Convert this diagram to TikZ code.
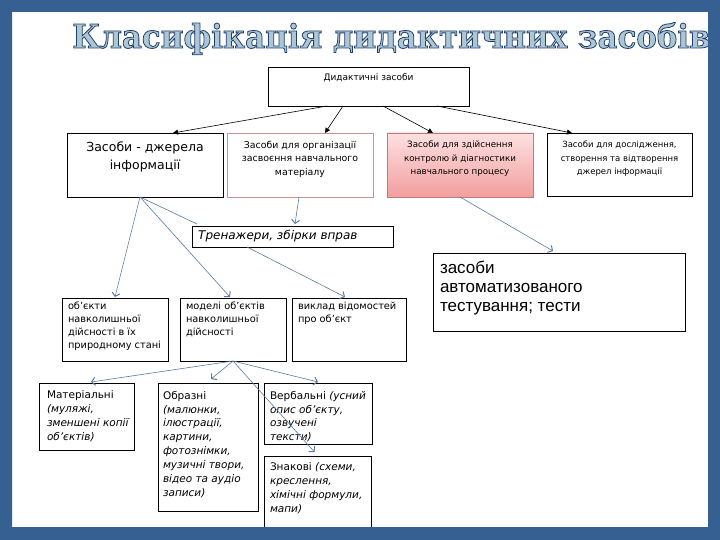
\documentclass[tikz,border=0pt]{standalone}
\usepackage{fontspec}
\setmainfont{DejaVu Sans}
\newfontfamily\lsans{Liberation Sans}
\newfontfamily\tserif{DejaVu Serif}
\usetikzlibrary{arrows.meta,calc}
\definecolor{frameblue}{RGB}{54,96,146}
\definecolor{linkblue}{RGB}{90,124,160}
\definecolor{ttlfill}{RGB}{172,198,212}
\definecolor{orgedge}{RGB}{205,145,145}
\definecolor{ctrledge}{RGB}{185,125,125}
\definecolor{ctrltop}{RGB}{253,224,224}
\definecolor{ctrlbot}{RGB}{243,158,158}
\newcommand{\ttltext}{\resizebox{638pt}{25.5pt}{\tserif\bfseries\special{pdf:literal direct 2 Tr 0.25 w 0.13 0.25 0.43 RG}Класифікація дидактичних засобів\special{pdf:literal direct 0 Tr}}}
\begin{document}
\begin{tikzpicture}[x=1pt,y=-1pt,
  bx/.style={draw=black, line width=0.8pt, inner sep=0pt, outer sep=0pt, fill=white, anchor=north west},
  txt/.style={inner sep=0pt, outer sep=0pt, align=left, anchor=north west, text=black},
  ctxt/.style={inner sep=0pt, outer sep=0pt, align=center, anchor=north, text=black},
  blk/.style={draw=black, line width=0.6pt, -{Triangle[length=5pt,width=5pt]}},
  lnk/.style={draw=linkblue, line width=0.6pt, -{Straight Barb[length=3.5pt,width=8pt,line width=1pt]}},
  lnkplain/.style={draw=linkblue, line width=0.6pt},
  small/.style={font=\fontsize{8.5}{13.6}\selectfont},
  bot/.style={font=\fontsize{9.8}{13}\selectfont},
  bot2/.style={font=\fontsize{10.5}{13.9}\selectfont},
]
\useasboundingbox (0,0) rectangle (720,540);
\fill[white] (0,0) rectangle (720,540);

% title
\node[inner sep=0pt, anchor=base west, text=ttlfill] (title) at (72,48) {\ttltext};

% boxes
\node[bx, minimum width=201pt, minimum height=39pt] (top) at (268,67) {};
\node[ctxt, font=\fontsize{9}{11}\selectfont] (topT) at ([yshift=-7pt]top.north) {Дидактичні засоби};

\node[bx, minimum width=156pt, minimum height=64pt] (src) at (67,133) {};
\node[ctxt, font=\fontsize{12.5}{17.5}\selectfont] (srcT) at ([yshift=-9pt]src.north) {Засоби - джерела\\інформації};

\node[bx, draw=orgedge, minimum width=146pt, minimum height=64pt] (org) at (227,133) {};
\node[ctxt, font=\fontsize{9.4}{13.6}\selectfont] (orgT) at ([yshift=-8pt]org.north) {Засоби для організації\\засвоєння навчального\\матеріалу};

\node[bx, draw=ctrledge, top color=ctrltop, bottom color=ctrlbot, minimum width=146pt, minimum height=64pt] (ctrl) at (387,133) {};
\node[ctxt, font=\fontsize{8.7}{13.6}\selectfont] (ctrlT) at ([yshift=-8pt]ctrl.north) {Засоби для здійснення\\контролю й діагностики\\навчального процесу};

\node[bx, minimum width=145pt, minimum height=63pt] (res) at (547,133) {};
\node[ctxt, small] (resT) at ([yshift=-8pt]res.north) {Засоби для дослідження,\\створення та відтворення\\джерел інформації};

\node[bx, minimum width=201pt, minimum height=21pt] (trn) at (192,226) {};
\node[inner sep=0pt, anchor=west, font=\fontsize{12}{14}\selectfont\itshape] (trnT) at ([xshift=6pt]trn.west) {Тренажери, збірки вправ};

\node[bx, minimum width=252pt, minimum height=78pt] (auto) at (433,253) {};
\node[txt, font=\lsans\fontsize{17}{19}\selectfont] (autoT) at ([shift={(7pt,-8pt)}]auto.north west) {засоби\\автоматизованого\\тестування; тести};

\node[bx, minimum width=106pt, minimum height=63pt] (obj) at (62,298) {};
\node[txt, bot] (objT) at ([shift={(6pt,-4pt)}]obj.north west) {об'єкти\\навколишньої\\дійсності в їх\\природному стані};

\node[bx, minimum width=106pt, minimum height=63pt] (mod) at (180,298) {};
\node[txt, bot] (modT) at ([shift={(6pt,-4pt)}]mod.north west) {моделі об'єктів\\навколишньої\\дійсності};

\node[bx, minimum width=114pt, minimum height=63pt] (vyk) at (292,298) {};
\node[txt, bot] (vykT) at ([shift={(6pt,-4pt)}]vyk.north west) {виклад відомостей\\про об'єкт};

\node[bx, minimum width=95pt, minimum height=67pt] (mat) at (39,383) {};
\node[txt, bot2] (matT) at ([shift={(8pt,-8pt)}]mat.north west) {Матеріальні\\\textit{(муляжі,}\\\textit{зменшені копії}\\\textit{об'єктів)}};

\node[bx, minimum width=100pt, minimum height=128pt] (obr) at (158,383) {};
\node[txt, bot2] (obrT) at ([shift={(5pt,-8pt)}]obr.north west) {Образні\\\textit{(малюнки,}\\\textit{ілюстрації,}\\\textit{картини,}\\\textit{фотознімки,}\\\textit{музичні твори,}\\\textit{відео та аудіо}\\\textit{записи)}};

\node[bx, minimum width=108pt, minimum height=61pt] (verb) at (264,383) {};
\node[txt, bot2] (verbT) at ([shift={(6pt,-8pt)}]verb.north west) {Вербальні \textit{(усний}\\\textit{опис об'єкту,}\\\textit{озвучені}\\\textit{тексти)}};

\node[bx, minimum width=107pt, minimum height=84pt] (znak) at (264,456) {};
\node[txt, bot2] (znakT) at ([shift={(6pt,-7pt)}]znak.north west) {Знакові \textit{(схеми,}\\\textit{креслення,}\\\textit{хімічні формули,}\\\textit{мапи)}};

% black connectors
\draw[blk] ([xshift=-41.5pt]top.south) -- ([xshift=28pt]src.north);
\draw[blk] ([xshift=-25.5pt]top.south) -- ([xshift=25pt]org.north);
\draw[blk] ([xshift=14.5pt]top.south) -- ([xshift=-27pt]ctrl.north);
\draw[blk] ([xshift=68.5pt]top.south) -- ([xshift=-47.5pt]res.north);

% blue connectors
\draw[lnk] ([xshift=-5pt]src.south) -- ([yshift=1pt]obj.north);
\draw[lnk] ([xshift=-5pt]src.south) -- ([shift={(-3pt,1pt)}]mod.north);
\draw[lnkplain] ([xshift=-5pt]src.south) -- ([shift={(5pt,2pt)}]trn.north west);
\draw[lnk] ([xshift=-1pt]org.south) -- ([shift={(2.5pt,2pt)}]trn.north);
\draw[lnk] ([xshift=-45.5pt]trn.south) -- ([shift={(-4pt,1pt)}]vyk.north);
\draw[lnk] (ctrl.south) -- ([shift={(-6pt,2pt)}]auto.north);
\draw[lnk] (mod.south) -- ([shift={(4.5pt,1pt)}]mat.north);
\draw[lnk] (mod.south) -- ([shift={(3pt,4pt)}]obr.north);
\draw[lnk] (mod.south) -- ([shift={(0pt,1pt)}]verb.north);
\draw[lnk] (mod.south) -- ([shift={(-3pt,4pt)}]znak.north);

% frame
\fill[frameblue, even odd rule] (0,0) rectangle (720,540) (12,12) rectangle (708,527);
\end{tikzpicture}
\end{document}
